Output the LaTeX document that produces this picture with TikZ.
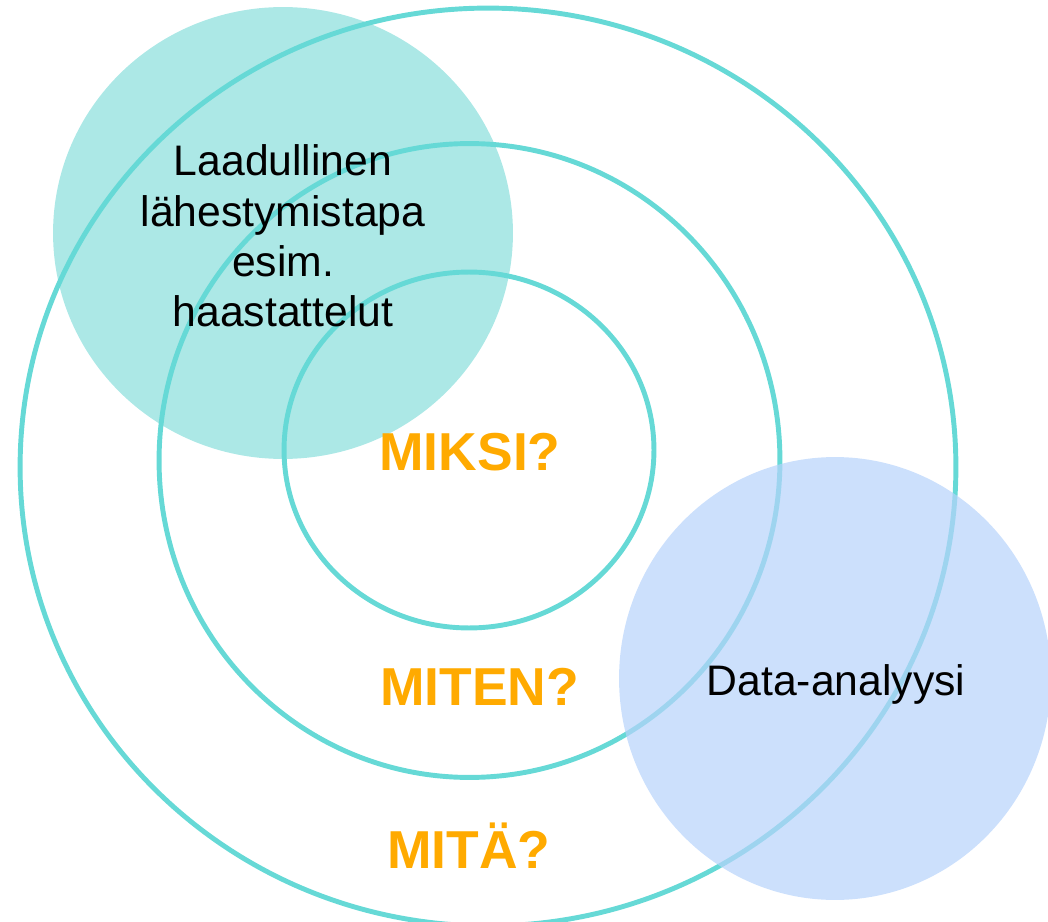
\documentclass[tikz,border=0pt]{standalone}
\usepackage{fontspec}
\setmainfont{Liberation Sans}
\usetikzlibrary{shapes.geometric}
\definecolor{ringc}{HTML}{66D9D6}
\definecolor{tealfill}{HTML}{ACE8E6}
\definecolor{bluefill}{RGB}{182,211,251}
\definecolor{qorange}{HTML}{FFAA00}
\begin{document}
\begin{tikzpicture}[
  x=0.02cm, y=-0.02cm,
  ring/.style={shape=ellipse, draw=ringc, line width=2.8pt, inner sep=0pt},
  blob/.style={shape=ellipse, inner sep=0pt},
  question/.style={text=qorange, anchor=base, font=\bfseries\fontsize{30.4}{36}\selectfont},
  bodytext/.style={align=center, font=\fontsize{24.3}{28.6}\selectfont}
  ]
    \useasboundingbox (0,0) rectangle (1048,922);
    % qualitative side
    \node[blob, fill=tealfill, minimum width=9.2cm, minimum height=9.04cm] (teal) at (283,233) {};
    % rings
    \node[ring, minimum width=18.72cm, minimum height=18.36cm] (mita) at (488,467) {};
    \node[ring, minimum width=12.42cm, minimum height=12.68cm] (miten) at (469.5,460.5) {};
    \node[ring, minimum width=7.4cm, minimum height=7.12cm] (miksi) at (469,450) {};
    % data side
    \node[blob, fill=bluefill, fill opacity=0.7, minimum width=8.64cm, minimum height=8.86cm] (blue) at (835,678.5) {};
    % texts
    \node[bodytext] (quali) at (283,236) {Laadullinen\\lähestymistapa\\esim.\\haastattelut};
    \node[bodytext, anchor=base] (data) at (836,695) {Data-analyysi};
    \node[question] (qmiksi) at (470,470) {MIKSI?};
    \node[question] (qmiten) at (479.5,705) {MITEN?};
    \node[question] (qmita) at (469,868) {MITÄ?};
\end{tikzpicture}
\end{document}
